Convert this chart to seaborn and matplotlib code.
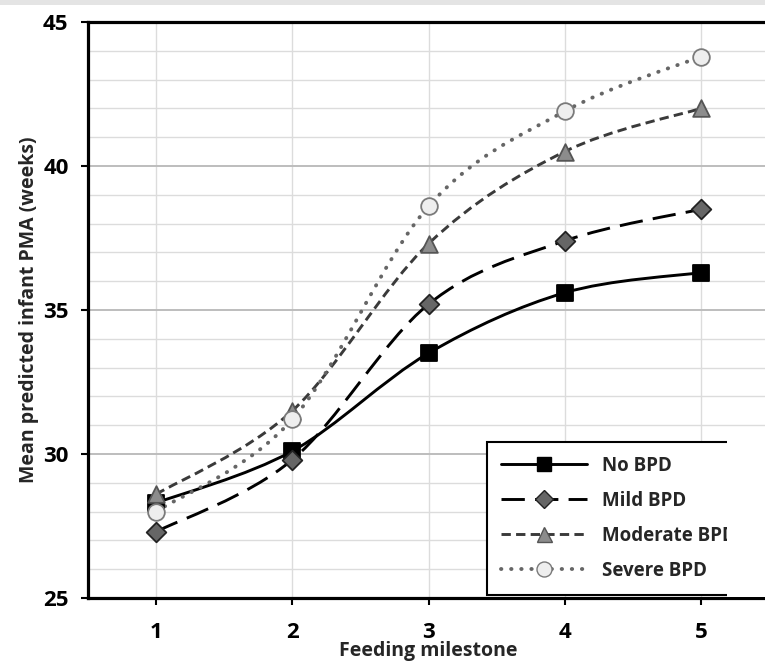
# Curbe netezite (stil Excel) pentru PMA prezisă pe etape de alimentare
import numpy as np
import pandas as pd
import matplotlib
matplotlib.use("Agg")
import matplotlib.pyplot as plt
import seaborn as sns
from matplotlib.path import Path
from matplotlib.patches import PathPatch, Rectangle
from matplotlib.lines import Line2D
from matplotlib.ticker import MultipleLocator

# Datele
milestones = [1, 2, 3, 4, 5]
no_bpd = [28.3, 30.1, 33.5, 35.6, 36.3]
mild_bpd = [27.3, 29.8, 35.2, 37.4, 38.5]
moderate_bpd = [28.6, 31.5, 37.3, 40.5, 42.0]
severe_bpd = [28.0, 31.2, 38.6, 41.9, 43.8]
labels = ["No BPD", "Mild BPD", "Moderate BPD", "Severe BPD"]
series = [no_bpd, mild_bpd, moderate_bpd, severe_bpd]

sns.set_style("white")
plt.rcParams['font.family'] = ['Open Sans', 'DejaVu Sans']
plt.rcParams['font.weight'] = 'bold'

# stil pentru fiecare serie
styles = [
    dict(color="black", ls="-", lw=2.1, marker="s", mfc="black", mec="black", ms=11),
    dict(color="black", ls=(0, (8, 3.5)), lw=2.1, marker="D", mfc="#666666", mec="#222222", ms=10),
    dict(color="#3a3a3a", ls=(0, (3.2, 1.8)), lw=2.1, marker="^", mfc="#8c8c8c", mec="#555555", ms=12),
    dict(color="#666666", ls=(0, (0.1, 2.5)), lw=2.8, marker="o", mfc="#eeeeee", mec="#7a7a7a", ms=12),
]


def smooth_path(xs, ys, t=1/6):
    # Bezier cubic tip Catmull-Rom, ca netezirea din Excel
    pts = np.column_stack([xs, ys]).astype(float)
    n = len(pts)
    verts = [pts[0]]
    codes = [Path.MOVETO]
    for i in range(n - 1):
        p0 = pts[max(i - 1, 0)]
        p1 = pts[i]
        p2 = pts[i + 1]
        p3 = pts[min(i + 2, n - 1)]
        c1 = p1 + (p2 - p0) * t
        c2 = p2 - (p3 - p1) * t
        verts += [c1, c2, p2]
        codes += [Path.CURVE4] * 3
    return Path(verts, codes)


fig = plt.figure(figsize=(7.65, 6.64), dpi=100)
ax = fig.add_axes([88/765, 66/664, (769-88)/765, 576/664])

for vals, st in zip(series, styles):
    patch = PathPatch(smooth_path(milestones, vals), facecolor="none",
                      edgecolor=st["color"], lw=st["lw"], linestyle=st["ls"],
                      capstyle="round" if st["marker"] == "o" else "butt", zorder=3)
    ax.add_patch(patch)
    sns.scatterplot(x=milestones, y=vals, marker=st["marker"], s=st["ms"]**2,
                    color=st["mfc"], edgecolor=st["mec"], linewidth=1.3,
                    zorder=4, ax=ax, legend=False)

ax.set_xlim(0.5, 5.5)
ax.set_ylim(25, 45)
ax.set_xticks(milestones)
ax.set_yticks(range(25, 46, 5))
ax.yaxis.set_minor_locator(MultipleLocator(1))

ax.grid(which="major", axis="y", color="#bdbdbd", lw=1.4, zorder=0)
ax.grid(which="minor", axis="y", color="#dcdcdc", lw=1.0, zorder=0)
ax.grid(which="major", axis="x", color="#dcdcdc", lw=1.0, zorder=0)
ax.set_axisbelow(True)

for s in ax.spines.values():
    s.set_color("black")
    s.set_linewidth(2.3)

ax.tick_params(axis="both", which="major", direction="out", length=5, width=1.5,
               labelsize=16, pad=9, left=True, bottom=True, colors="black")
ax.tick_params(axis="x", which="major", pad=12)
ax.tick_params(axis="y", which="minor", length=0)

ax.set_xlabel("Feeding milestone", fontsize=14, fontweight="bold", labelpad=-1)
ax.set_ylabel("Mean predicted infant PMA (weeks)", fontsize=14, fontweight="bold", labelpad=3)

handles = [Line2D([0], [0], color=st["color"], ls=st["ls"], lw=st["lw"],
                  marker=st["marker"], markerfacecolor=st["mfc"], markeredgecolor=st["mec"],
                  markersize=st["ms"] * 0.9, dash_capstyle="round" if st["marker"] == "o" else "butt")
           for st in styles]
leg = ax.legend(handles, labels, loc="lower left",
                bbox_to_anchor=(487/765, 69/664), bbox_transform=fig.transFigure,
                borderaxespad=0, fontsize=13.5, handlelength=4.6, handletextpad=0.8,
                borderpad=0.75, labelspacing=0.8, fancybox=False, framealpha=1,
                edgecolor="black")
leg.get_frame().set_linewidth(1.5)
for txt in leg.get_texts():
    txt.set_fontweight("bold")

# legenda e taiata in original
fig.add_artist(Rectangle((727/765, 67/664), 40/765, 170/664, transform=fig.transFigure,
                         facecolor="white", edgecolor="none", zorder=20))
# banda gri sus
fig.add_artist(Rectangle((0, 1 - 5/664), 1, 5/664, transform=fig.transFigure,
                         facecolor="#e4e4e4", edgecolor="none", zorder=20))

fig.savefig("out.png", dpi=100)
